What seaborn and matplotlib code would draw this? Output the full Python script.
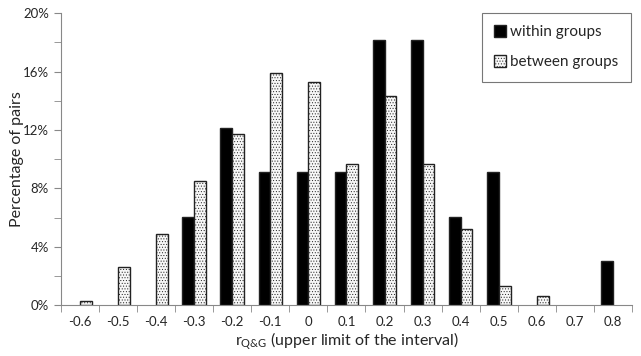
import pandas as pd
import numpy as np
import matplotlib
matplotlib.use('Agg')
import matplotlib.pyplot as plt
import seaborn as sns
from matplotlib.ticker import FixedLocator, PercentFormatter

# data
intervals = ['-0.6', '-0.5', '-0.4', '-0.3', '-0.2', '-0.1', '0', '0.1',
             '0.2', '0.3', '0.4', '0.5', '0.6', '0.7', '0.8']
within_groups = [0, 0, 0, 6.06, 12.12, 9.09, 9.09, 9.09,
                 18.18, 18.18, 6.06, 9.09, 0, 0, 3.03]
between_groups = [0.3, 2.6, 4.9, 8.5, 11.7, 15.9, 15.3, 9.7,
                  14.3, 9.7, 5.2, 1.3, 0.65, 0, 0]

df = pd.DataFrame({
    'interval': intervals * 2,
    'pct': within_groups + between_groups,
    'group': ['within groups'] * len(intervals) + ['between groups'] * len(intervals),
})

sns.set_style('white')
plt.rcParams['font.family'] = ['Lato', 'DejaVu Sans']
plt.rcParams['mathtext.default'] = 'regular'
plt.rcParams['hatch.linewidth'] = 0.4
plt.rcParams['hatch.color'] = '#b5b5b5'

fig = plt.figure(figsize=(6.41, 3.56), dpi=100)
ax = fig.add_axes([0.095, 0.143, 0.891, 0.82])

sns.barplot(data=df, x='interval', y='pct', hue='group', order=intervals,
            palette=['black', '#f7f7f7'], width=0.62, gap=0,
            edgecolor='#222222', linewidth=1.0, ax=ax)

# dotted fill for "between groups", hide empty bars
for bar in ax.containers[1]:
    bar.set_hatch('......')
for cont in ax.containers:
    for bar in cont:
        if bar.get_height() == 0:
            bar.set_visible(False)

ax.set_ylim(0, 20)
ax.set_xlim(-0.5, len(intervals) - 0.5)
ax.yaxis.set_major_locator(FixedLocator([0, 4, 8, 12, 16, 20]))
ax.yaxis.set_minor_locator(FixedLocator([2, 6, 10, 14, 18]))
ax.yaxis.set_major_formatter(PercentFormatter(decimals=0))
ax.xaxis.set_minor_locator(FixedLocator(np.arange(-0.5, len(intervals), 1.0)))

ax.tick_params(axis='x', which='major', length=0, pad=8, labelsize=9.5)
ax.tick_params(axis='x', which='minor', length=5, direction='out', color='#888888', bottom=True)
ax.tick_params(axis='y', which='both', left=True, length=5, direction='out',
               color='#888888', labelsize=9.5)

for s in ['top', 'right']:
    ax.spines[s].set_visible(False)
for s in ['left', 'bottom']:
    ax.spines[s].set_color('#888888')

ax.set_ylabel('Percentage of pairs', fontsize=11.5, labelpad=-1)
ax.set_xlabel(r'r$_{Q&G}$ (upper limit of the interval)', fontsize=11.5, labelpad=2)

leg = ax.legend(loc='upper right', bbox_to_anchor=(0.998, 1.002), frameon=True,
                fancybox=False, edgecolor='#555555', fontsize=11,
                handlelength=0.75, handleheight=0.9, handletextpad=0.3,
                labelspacing=1.0, borderpad=0.8, borderaxespad=0)
leg.get_frame().set_linewidth(0.8)
for h in leg.legend_handles[1:]:
    h.set_hatch('......')

fig.savefig('out.png', dpi=100)
